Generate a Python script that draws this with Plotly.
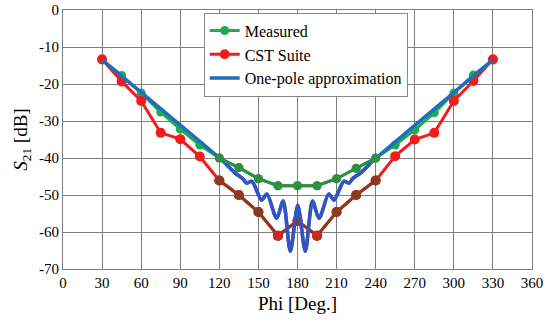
import plotly.graph_objects as go

phi = [30, 45, 60, 75, 90, 105, 120, 135, 150, 165, 180, 195, 210, 225, 240, 255, 270, 285, 300, 315, 330]
measured = [-13.5, -17.7, -22.4, -27.6, -32.2, -36.5, -40.0, -42.6, -45.6, -47.5, -47.5, -47.5, -45.6, -42.8, -40.0, -36.5, -32.4, -27.8, -22.4, -17.6, -13.5]
cst = [-13.3, -19.3, -24.6, -33.2, -34.9, -39.6, -46.1, -50.0, -54.6, -61.0, -57.0, -61.0, -54.6, -50.0, -46.1, -39.5, -35.0, -33.2, -24.6, -19.2, -13.3]

phi_pole = [30, 120, 125, 132, 138, 141, 145, 152.5, 156.5, 164, 169, 174.5, 180.2, 186, 191.5, 196.5, 204, 208, 215.5, 219.5, 222.5, 228.5, 235.5, 240.5, 330]
pole = [-13.5, -40.0, -41.6, -44.0, -45.6, -46.8, -46.3, -51.4, -49.7, -56.3, -51.6, -65.2, -52.8, -65.2, -51.6, -56.3, -49.7, -51.4, -46.3, -46.8, -45.5, -44.0, -41.6, -40.0, -13.5]

x_ticks = [0, 30, 60, 90, 120, 150, 180, 210, 240, 270, 300, 330, 360]
y_ticks = [0, -10, -20, -30, -40, -50, -60, -70]
y_labels = ["0", "-10", "-20", "-30", "-40", "-50", "-60", "-70"]

GREEN = "#1DAA50"
RED = "#F21C1C"
BLUE = "#1F6EBD"
DGREEN = "#2F8F42"
BROWN = "#8C3A1E"
DBLUE = "#3553C2"

fig = go.Figure()
fig.add_trace(go.Scatter(x=phi, y=measured, mode="lines+markers", name="Measured",
                         line=dict(color=GREEN, width=3), marker=dict(color=GREEN, size=9)))
fig.add_trace(go.Scatter(x=phi, y=cst, mode="lines+markers", name="CST Suite",
                         line=dict(color=RED, width=3), marker=dict(color=RED, size=10)))
fig.add_trace(go.Scatter(x=phi_pole, y=pole, mode="lines", name="One-pole approximation",
                         line=dict(color=BLUE, width=3.5, shape="spline", smoothing=0.8)))

# darker middle region (as in the reference image)
fig.add_trace(go.Scatter(x=phi[6:15], y=measured[6:15], mode="lines+markers", showlegend=False,
                         line=dict(color=DGREEN, width=3), marker=dict(color=DGREEN, size=9)))
fig.add_trace(go.Scatter(x=phi[6:15], y=cst[6:15], mode="lines+markers", showlegend=False,
                         line=dict(color=BROWN, width=3), marker=dict(color=BROWN, size=10)))
fig.add_trace(go.Scatter(x=phi_pole[2:23], y=pole[2:23], mode="lines", showlegend=False,
                         line=dict(color=DBLUE, width=3.5, shape="spline", smoothing=0.8)))
fig.add_trace(go.Scatter(x=[phi[9], phi[11]], y=[cst[9], cst[11]], mode="markers", showlegend=False,
                         marker=dict(color="#C8281E", size=10)))

font = "Liberation Serif"
fig.update_layout(
    width=550, height=332,
    margin=dict(l=63, r=18, t=10, b=63),
    paper_bgcolor="white", plot_bgcolor="white",
    font=dict(family=font, size=15, color="black"),
    showlegend=True,
    legend=dict(x=0.3, y=0.99, xanchor="left", yanchor="top",
                bgcolor="white", bordercolor="#888888", borderwidth=1,
                font=dict(family=font, size=16, color="black"),
                tracegroupgap=0, itemwidth=30),
    xaxis=dict(range=[0, 360], tickvals=x_ticks, showgrid=True, gridcolor="#7f7f7f", gridwidth=1,
               showline=True, linecolor="#7f7f7f", mirror=True, zeroline=False, ticks="",
               automargin=False,
               title=dict(text="Phi [Deg.]", font=dict(family=font, size=19), standoff=6),
               tickfont=dict(family=font, size=15)),
    yaxis=dict(range=[-70, 0], tickvals=y_ticks, ticktext=y_labels, showgrid=True, gridcolor="#7f7f7f",
               gridwidth=1, showline=True, linecolor="#7f7f7f", mirror=True, zeroline=False, ticks="",
               automargin=False,
               title=dict(text="<i>S</i><sub>21</sub> [dB]", font=dict(family=font, size=19), standoff=6),
               tickfont=dict(family=font, size=15)),
)
fig.write_html("out.html", config={"displayModeBar": False},
               post_script="document.body.style.margin='0px';")
